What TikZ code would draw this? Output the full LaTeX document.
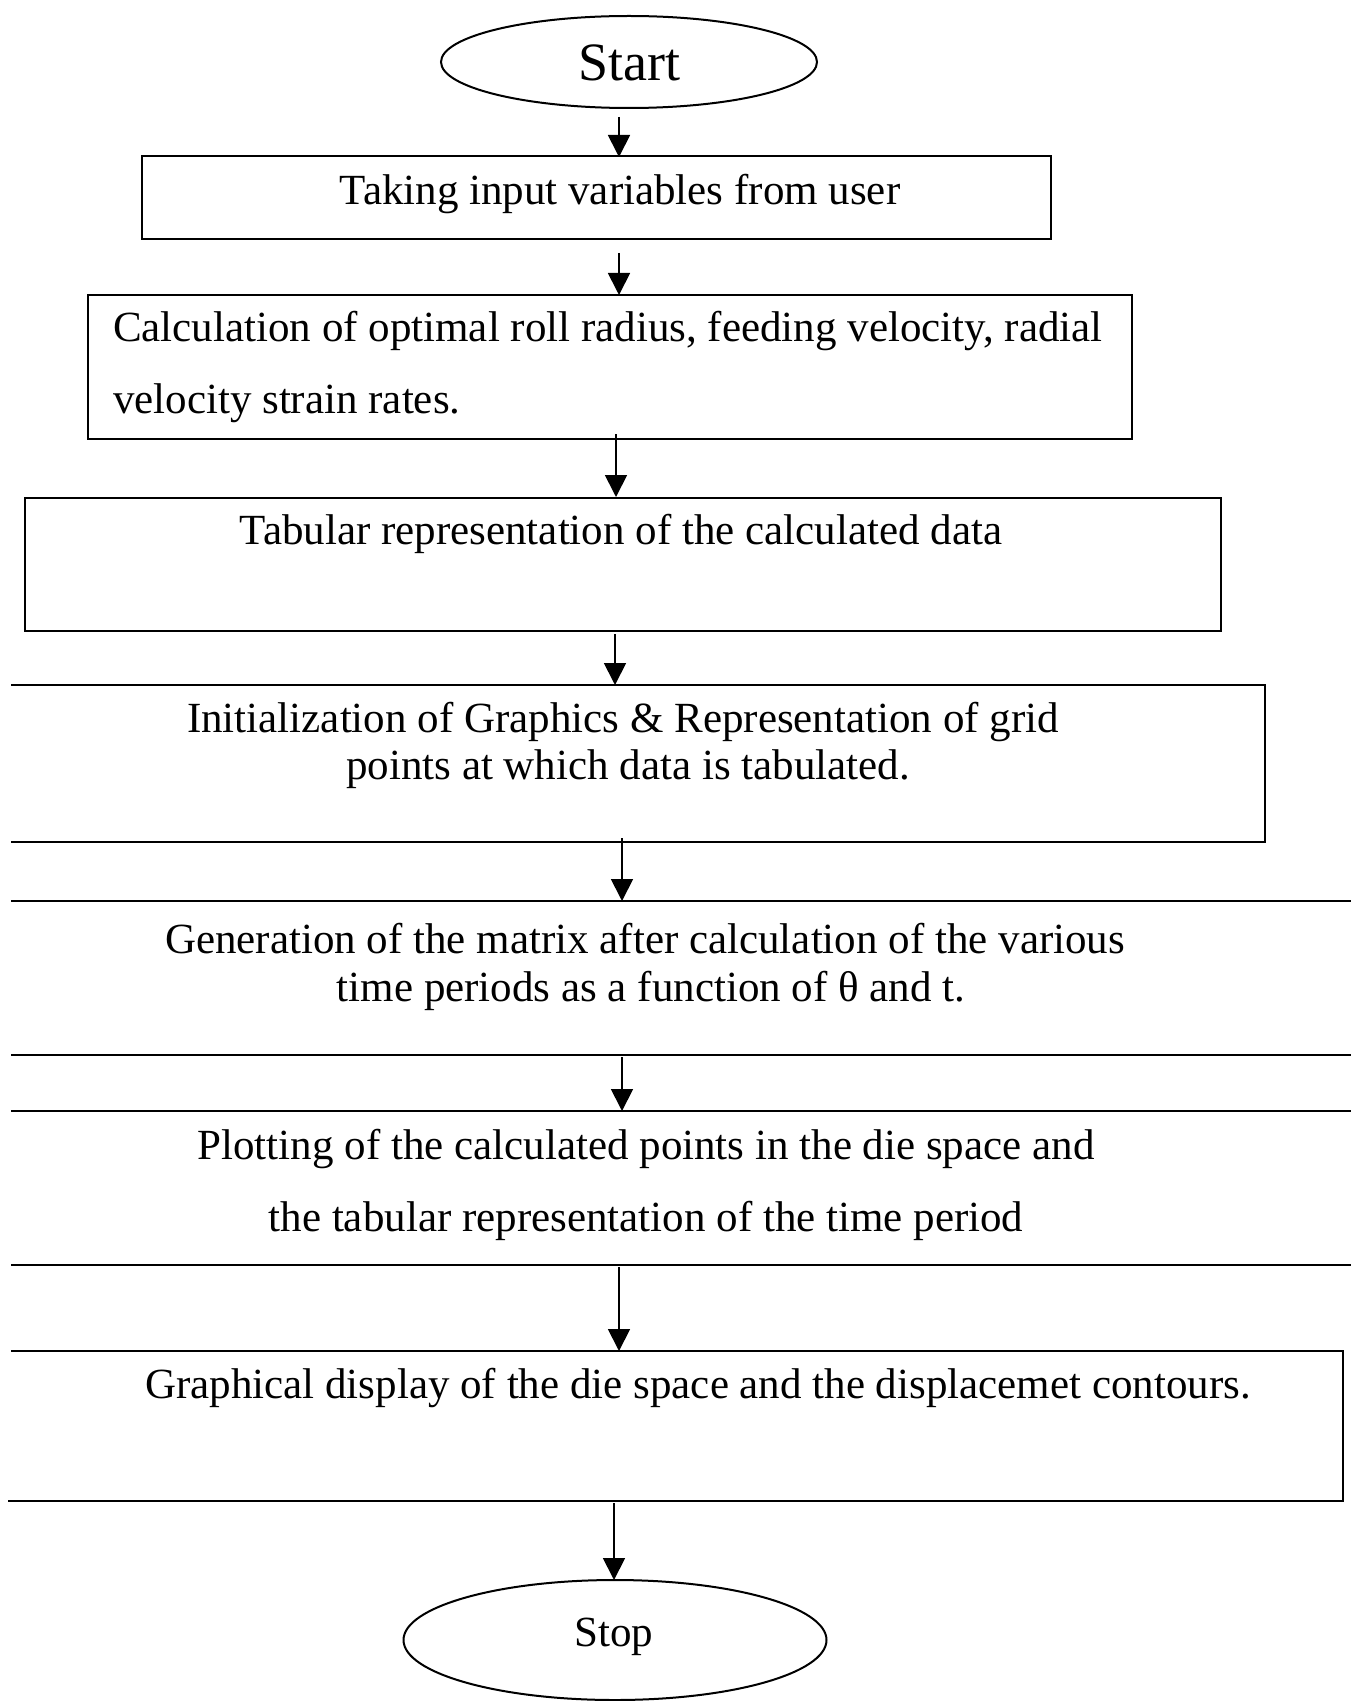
\documentclass[tikz,border=0pt]{standalone}
\usepackage{fontspec}
\setmainfont{Liberation Serif}
\usetikzlibrary{arrows.meta,shapes.geometric}
\begin{document}
\begin{tikzpicture}[x=0.5pt,y=-0.5pt,
  line width=1pt,
  boxline/.style={draw=black,line width=1pt},
  flowbox/.style={draw=black,line width=1pt,rectangle,inner sep=0pt},
  term/.style={draw=black,line width=1pt,ellipse,inner sep=0pt},
  txt/.style={inner sep=0pt,font=\fontsize{21.5}{26}\selectfont},
  arr/.style={-{Triangle[length=11pt,width=11pt]},line width=0.9pt}]
\useasboundingbox (0,0) rectangle (1351,1701);
% Start
\node[term,minimum width=188pt,minimum height=46pt] (start) at (629,62) {};
\node[inner sep=0pt,font=\fontsize{27}{31}\selectfont] (starttxt) at (629,63) {Start};
% Box 1
\node[flowbox,minimum width=454.5pt,minimum height=41.5pt] (b1) at (596.5,198) {};
\node[txt] (t1) at (620,194) {Taking input variables from user};
% Box 2
\node[flowbox,minimum width=522pt,minimum height=72pt] (b2) at (610,367) {};
\node[txt,anchor=west] (t2a) at (112,331) {Calculation of optimal roll radius, feeding velocity, radial};
\node[txt,anchor=west] (t2b) at (112,403) {velocity strain rates.};
% Box 3
\node[flowbox,minimum width=598pt,minimum height=66.5pt] (b3) at (623,564) {};
\node[txt] (t3) at (621,534) {Tabular representation of the calculated data};
% Box 4 (no left side)
\draw[boxline] (11,685) -- (1265,685) -- (1265,842) -- (11,842);
\node[txt] (t4a) at (623,722) {Initialization of Graphics \& Representation of grid};
\node[txt] (t4b) at (628,769) {points at which data is tabulated.};
% Box 5 (two lines)
\draw[boxline] (11,901) -- (1351,901);
\draw[boxline] (11,1055) -- (1351,1055);
\node[txt] (t5a) at (645,939) {Generation of the matrix after calculation of the various};
\node[txt] (t5b) at (651,991) {time periods as a function of θ and t.};
% Box 6 (two lines)
\draw[boxline] (11,1111) -- (1351,1111);
\draw[boxline] (11,1265) -- (1351,1265);
\node[txt] (t6a) at (646,1149) {Plotting of the calculated points in the die space and};
\node[txt] (t6b) at (646,1221) {the tabular representation of the time period};
% Box 7 (no left side)
\draw[boxline] (11,1351) -- (1343,1351) -- (1343,1501) -- (8,1501);
\node[txt] (t7) at (698,1388) {Graphical display of the die space and the displacemet contours.};
% Stop
\node[term,minimum width=211.5pt,minimum height=60pt] (stop) at (615,1640) {};
\node[inner sep=0pt,font=\fontsize{21.5}{25}\selectfont] (stoptxt) at (614,1637) {Stop};
% connector end points
\coordinate (a1s) at (619,117); \coordinate (a1e) at (619,157);
\coordinate (a2s) at (619,253); \coordinate (a2e) at (619,295);
\coordinate (a3s) at (616,434); \coordinate (a3e) at (616,497);
\coordinate (a4s) at (615,634); \coordinate (a4e) at (615,685);
\coordinate (a5s) at (622,838); \coordinate (a5e) at (622,901);
\coordinate (a6s) at (622,1057); \coordinate (a6e) at (622,1111);
\coordinate (a7s) at (619,1267); \coordinate (a7e) at (619,1351);
\coordinate (a8s) at (614,1503); \coordinate (a8e) at (614,1580);
\draw[arr] (a1s) -- (a1e);
\draw[arr] (a2s) -- (a2e);
\draw[arr] (a3s) -- (a3e);
\draw[arr] (a4s) -- (a4e);
\draw[arr] (a5s) -- (a5e);
\draw[arr] (a6s) -- (a6e);
\draw[arr] (a7s) -- (a7e);
\draw[arr] (a8s) -- (a8e);
\end{tikzpicture}
\end{document}
